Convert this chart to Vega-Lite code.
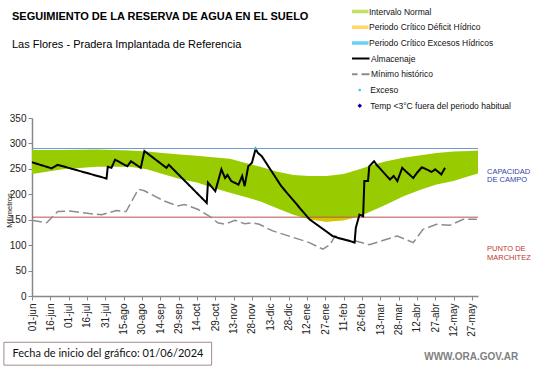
{
  "$schema": "https://vega.github.io/schema/vega-lite/v6.json",
  "width": 446,
  "height": 178,
  "autosize": "none",
  "padding": {"left": 32, "top": 118, "right": 63, "bottom": 72},
  "background": "white",
  "title": {
    "text": "SEGUIMIENTO DE LA RESERVA DE AGUA EN EL SUELO",
    "subtitle": "Las Flores - Pradera Implantada  de Referencia",
    "anchor": "start",
    "frame": "group",
    "dx": -20,
    "offset": -44,
    "font": "Liberation Sans",
    "fontSize": 11,
    "fontWeight": "bold",
    "color": "black",
    "subtitleFont": "Liberation Sans",
    "subtitleFontSize": 11,
    "subtitleColor": "black",
    "subtitlePadding": 17
  },
  "datasets": {
    "banda": [
      {"fecha": "2024-06-01", "sup": 287, "inf": 240},
      {"fecha": "2024-06-26", "sup": 287, "inf": 249},
      {"fecha": "2024-07-24", "sup": 288, "inf": 254},
      {"fecha": "2024-08-20", "sup": 286, "inf": 254},
      {"fecha": "2024-09-03", "sup": 284, "inf": 249},
      {"fecha": "2024-09-16", "sup": 281, "inf": 240},
      {"fecha": "2024-09-30", "sup": 278, "inf": 230},
      {"fecha": "2024-10-14", "sup": 276, "inf": 223},
      {"fecha": "2024-10-27", "sup": 273, "inf": 213},
      {"fecha": "2024-11-10", "sup": 270, "inf": 203},
      {"fecha": "2024-11-22", "sup": 262, "inf": 195},
      {"fecha": "2024-12-05", "sup": 254, "inf": 186},
      {"fecha": "2024-12-18", "sup": 245, "inf": 173},
      {"fecha": "2025-01-01", "sup": 238, "inf": 160},
      {"fecha": "2025-01-14", "sup": 236, "inf": 151},
      {"fecha": "2025-01-28", "sup": 236, "inf": 146},
      {"fecha": "2025-02-11", "sup": 240, "inf": 149},
      {"fecha": "2025-02-24", "sup": 249, "inf": 157},
      {"fecha": "2025-03-07", "sup": 258, "inf": 168},
      {"fecha": "2025-03-18", "sup": 265, "inf": 180},
      {"fecha": "2025-04-01", "sup": 272, "inf": 196},
      {"fecha": "2025-04-15", "sup": 277, "inf": 209},
      {"fecha": "2025-04-28", "sup": 281, "inf": 219},
      {"fecha": "2025-05-12", "sup": 284, "inf": 226},
      {"fecha": "2025-05-25", "sup": 285, "inf": 236},
      {"fecha": "2025-06-01", "sup": 286, "inf": 241}
    ],
    "deficit": [
      {"fecha": "2025-01-09", "inf": 155},
      {"fecha": "2025-01-14", "inf": 151},
      {"fecha": "2025-01-28", "inf": 146},
      {"fecha": "2025-02-11", "inf": 149},
      {"fecha": "2025-02-21", "inf": 155}
    ],
    "almacenaje": [
      {"fecha": "2024-06-01", "mm": 263},
      {"fecha": "2024-06-17", "mm": 251},
      {"fecha": "2024-06-22", "mm": 258},
      {"fecha": "2024-08-01", "mm": 231},
      {"fecha": "2024-08-02", "mm": 254},
      {"fecha": "2024-08-05", "mm": 252},
      {"fecha": "2024-08-08", "mm": 268},
      {"fecha": "2024-08-18", "mm": 255},
      {"fecha": "2024-08-21", "mm": 265},
      {"fecha": "2024-08-29", "mm": 252},
      {"fecha": "2024-09-01", "mm": 285},
      {"fecha": "2024-09-19", "mm": 252},
      {"fecha": "2024-09-21", "mm": 258},
      {"fecha": "2024-10-22", "mm": 183},
      {"fecha": "2024-10-23", "mm": 223},
      {"fecha": "2024-10-29", "mm": 206},
      {"fecha": "2024-11-03", "mm": 249},
      {"fecha": "2024-11-06", "mm": 232},
      {"fecha": "2024-11-08", "mm": 238},
      {"fecha": "2024-11-11", "mm": 226},
      {"fecha": "2024-11-17", "mm": 219},
      {"fecha": "2024-11-20", "mm": 236},
      {"fecha": "2024-11-22", "mm": 216},
      {"fecha": "2024-11-25", "mm": 255},
      {"fecha": "2024-11-28", "mm": 262},
      {"fecha": "2024-12-01", "mm": 289},
      {"fecha": "2024-12-03", "mm": 281},
      {"fecha": "2024-12-06", "mm": 275},
      {"fecha": "2024-12-22", "mm": 216},
      {"fecha": "2025-01-14", "mm": 151},
      {"fecha": "2025-02-02", "mm": 118},
      {"fecha": "2025-02-08", "mm": 113},
      {"fecha": "2025-02-15", "mm": 109},
      {"fecha": "2025-02-20", "mm": 105},
      {"fecha": "2025-02-21", "mm": 134},
      {"fecha": "2025-02-24", "mm": 160},
      {"fecha": "2025-02-27", "mm": 157},
      {"fecha": "2025-02-28", "mm": 226},
      {"fecha": "2025-03-03", "mm": 226},
      {"fecha": "2025-03-04", "mm": 255},
      {"fecha": "2025-03-08", "mm": 265},
      {"fecha": "2025-03-10", "mm": 258},
      {"fecha": "2025-03-21", "mm": 229},
      {"fecha": "2025-03-24", "mm": 236},
      {"fecha": "2025-03-27", "mm": 226},
      {"fecha": "2025-03-31", "mm": 252},
      {"fecha": "2025-04-03", "mm": 245},
      {"fecha": "2025-04-09", "mm": 232},
      {"fecha": "2025-04-12", "mm": 242},
      {"fecha": "2025-04-16", "mm": 253},
      {"fecha": "2025-04-19", "mm": 250},
      {"fecha": "2025-04-24", "mm": 244},
      {"fecha": "2025-04-27", "mm": 249},
      {"fecha": "2025-05-02", "mm": 239},
      {"fecha": "2025-05-05", "mm": 252}
    ],
    "minimo": [
      {"fecha": "2024-06-01", "mm": 149},
      {"fecha": "2024-06-13", "mm": 144},
      {"fecha": "2024-06-22", "mm": 166},
      {"fecha": "2024-07-02", "mm": 167},
      {"fecha": "2024-07-18", "mm": 162},
      {"fecha": "2024-07-28", "mm": 160},
      {"fecha": "2024-08-09", "mm": 168},
      {"fecha": "2024-08-17", "mm": 166},
      {"fecha": "2024-08-27", "mm": 210},
      {"fecha": "2024-09-01", "mm": 207},
      {"fecha": "2024-09-04", "mm": 203},
      {"fecha": "2024-09-17", "mm": 187},
      {"fecha": "2024-09-28", "mm": 177},
      {"fecha": "2024-10-04", "mm": 180},
      {"fecha": "2024-10-15", "mm": 170},
      {"fecha": "2024-10-26", "mm": 154},
      {"fecha": "2024-10-31", "mm": 144},
      {"fecha": "2024-11-06", "mm": 141},
      {"fecha": "2024-11-14", "mm": 149},
      {"fecha": "2024-11-22", "mm": 142},
      {"fecha": "2024-11-28", "mm": 144},
      {"fecha": "2024-12-04", "mm": 141},
      {"fecha": "2024-12-15", "mm": 128},
      {"fecha": "2025-01-01", "mm": 115},
      {"fecha": "2025-01-14", "mm": 105},
      {"fecha": "2025-01-25", "mm": 92},
      {"fecha": "2025-01-31", "mm": 101},
      {"fecha": "2025-02-04", "mm": 118},
      {"fecha": "2025-02-14", "mm": 109},
      {"fecha": "2025-02-21", "mm": 108},
      {"fecha": "2025-03-04", "mm": 101},
      {"fecha": "2025-03-15", "mm": 109},
      {"fecha": "2025-03-27", "mm": 118},
      {"fecha": "2025-04-09", "mm": 105},
      {"fecha": "2025-04-17", "mm": 131},
      {"fecha": "2025-04-28", "mm": 141},
      {"fecha": "2025-05-09", "mm": 139},
      {"fecha": "2025-05-20", "mm": 151},
      {"fecha": "2025-05-31", "mm": 151}
    ],
    "exceso": [
      {"fecha": "2024-12-01", "mm": 290}
    ]
  },
  "layer": [
    {
      "data": {"name": "banda"},
      "mark": {"type": "area", "opacity": 1},
      "encoding": {
        "x": {
          "field": "fecha", "type": "temporal",
          "scale": {"type": "utc", "domain": [{"year": 2024, "month": 6, "date": 1, "utc": true}, {"year": 2025, "month": 6, "date": 1, "utc": true}]},
          "axis": {
            "title": null,
            "tickCount": 40,
            "values": [
              {"year": 2024, "month": 6, "date": 1, "utc": true},
              {"year": 2024, "month": 6, "date": 16, "utc": true},
              {"year": 2024, "month": 7, "date": 1, "utc": true},
              {"year": 2024, "month": 7, "date": 16, "utc": true},
              {"year": 2024, "month": 7, "date": 31, "utc": true},
              {"year": 2024, "month": 8, "date": 15, "utc": true},
              {"year": 2024, "month": 8, "date": 30, "utc": true},
              {"year": 2024, "month": 9, "date": 14, "utc": true},
              {"year": 2024, "month": 9, "date": 29, "utc": true},
              {"year": 2024, "month": 10, "date": 14, "utc": true},
              {"year": 2024, "month": 10, "date": 29, "utc": true},
              {"year": 2024, "month": 11, "date": 13, "utc": true},
              {"year": 2024, "month": 11, "date": 28, "utc": true},
              {"year": 2024, "month": 12, "date": 13, "utc": true},
              {"year": 2024, "month": 12, "date": 28, "utc": true},
              {"year": 2025, "month": 1, "date": 12, "utc": true},
              {"year": 2025, "month": 1, "date": 27, "utc": true},
              {"year": 2025, "month": 2, "date": 11, "utc": true},
              {"year": 2025, "month": 2, "date": 26, "utc": true},
              {"year": 2025, "month": 3, "date": 13, "utc": true},
              {"year": 2025, "month": 3, "date": 28, "utc": true},
              {"year": 2025, "month": 4, "date": 12, "utc": true},
              {"year": 2025, "month": 4, "date": 27, "utc": true},
              {"year": 2025, "month": 5, "date": 12, "utc": true},
              {"year": 2025, "month": 5, "date": 27, "utc": true}
            ],
            "labelExpr": "utcFormat(datum.value, '%d') + '-' + ['ene','feb','mar','abr','may','jun','jul','ago','sep','oct','nov','dic'][utcmonth(datum.value)]",
            "labelAngle": -90,
            "labelOverlap": false,
            "labelFont": "Liberation Sans",
            "labelFontSize": 10,
            "labelColor": "#222222",
            "labelPadding": 3,
            "tickSize": 4,
            "tickColor": "#888888",
            "domainColor": "#888888",
            "grid": false
          }
        },
        "y": {
          "field": "sup", "type": "quantitative",
          "scale": {"domain": [0, 350], "nice": false},
          "axis": {
            "title": "Milímetros",
            "titleFont": "Liberation Sans",
            "titleFontSize": 7.5,
            "titleFontWeight": "normal",
            "titleColor": "#222222",
            "titleX": -19,
            "titleY": 92,
            "tickCount": 10,
            "values": [0, 50, 100, 150, 200, 250, 300, 350],
            "labelOverlap": false,
            "labelFont": "Liberation Sans",
            "labelFontSize": 10,
            "labelColor": "#222222",
            "tickSize": 4,
            "tickColor": "#888888",
            "domainColor": "#888888",
            "grid": false
          }
        },
        "y2": {"field": "inf"},
        "fill": {
          "datum": "Intervalo Normal",
          "scale": {
            "domain": ["Intervalo Normal", "Periodo Crítico Déficit Hídrico", "Periodo Crítico Excesos Hídricos"],
            "range": ["#99CC00", "#FFC000", "#00B0F0"]
          },
          "legend": {
            "title": null,
            "orient": "none",
            "legendX": 320,
            "legendY": -112,
            "padding": 0,
            "symbolType": "M-2,-0.32H2V0.32H-2Z",
            "symbolSize": 121,
            "symbolStrokeWidth": 0,
            "symbolOpacity": 1,
            "clipHeight": 11,
            "labelFont": "Liberation Sans",
            "labelFontSize": 8.5,
            "labelColor": "#111111",
            "labelOffset": 6,
            "rowPadding": 4.7
          }
        }
      }
    },
    {
      "data": {"name": "deficit"},
      "mark": {"type": "area", "opacity": 0.6},
      "encoding": {
        "x": {"field": "fecha", "type": "temporal"},
        "y": {"field": "inf", "type": "quantitative"},
        "y2": {"datum": 155},
        "fill": {"datum": "Periodo Crítico Déficit Hídrico"}
      }
    },
    {
      "data": {"values": [{}]},
      "mark": {"type": "rule", "color": "#6F9AD8", "strokeWidth": 1},
      "encoding": {"y": {"datum": 290}}
    },
    {
      "data": {"values": [{}]},
      "mark": {"type": "rule", "color": "#B85450", "strokeWidth": 1},
      "encoding": {"y": {"datum": 155}}
    },
    {
      "data": {"name": "minimo"},
      "mark": {"type": "line", "strokeWidth": 1.5},
      "encoding": {
        "x": {"field": "fecha", "type": "temporal"},
        "y": {"field": "mm", "type": "quantitative"},
        "stroke": {"datum": "Mínimo histórico"},
        "strokeDash": {"datum": "Mínimo histórico"}
      }
    },
    {
      "data": {"name": "almacenaje"},
      "mark": {"type": "line", "strokeWidth": 2},
      "encoding": {
        "x": {"field": "fecha", "type": "temporal"},
        "y": {"field": "mm", "type": "quantitative"},
        "stroke": {
          "datum": "Almacenaje",
          "scale": {"domain": ["Almacenaje", "Mínimo histórico"], "range": ["#000000", "#8C8C8C"]},
          "legend": {
            "title": null,
            "orient": "none",
            "legendX": 320,
            "legendY": -65,
            "padding": 0,
            "symbolType": "M-2,0H2",
            "symbolSize": 121,
            "symbolStrokeWidth": 2,
            "symbolFillColor": "transparent",
            "clipHeight": 11,
            "labelFont": "Liberation Sans",
            "labelFontSize": 8.5,
            "labelColor": "#111111",
            "labelOffset": 6,
            "rowPadding": 4.7
          }
        },
        "strokeDash": {
          "datum": "Almacenaje",
          "scale": {"domain": ["Almacenaje", "Mínimo histórico"], "range": [[1, 0], [10, 4]]},
          "legend": {
            "title": null,
            "orient": "none",
            "legendX": 320,
            "legendY": -65
          }
        }
      }
    },
    {
      "data": {"name": "exceso"},
      "mark": {"type": "point", "filled": true, "size": 20, "opacity": 1},
      "encoding": {
        "x": {"field": "fecha", "type": "temporal"},
        "y": {"field": "mm", "type": "quantitative"},
        "color": {
          "datum": "Exceso",
          "scale": {"domain": ["Exceso", "Temp <3°C fuera del periodo habitual"], "range": ["#33CCEE", "#0000AA"]},
          "legend": {
            "title": null,
            "orient": "none",
            "legendX": 323.5,
            "legendY": -33.5,
            "padding": 0,
            "symbolSize": 20,
            "symbolOpacity": 1,
            "clipHeight": 11,
            "labelFont": "Liberation Sans",
            "labelFontSize": 8.5,
            "labelColor": "#111111",
            "labelOffset": 6.3,
            "rowPadding": 4.7
          }
        },
        "shape": {
          "datum": "Exceso",
          "scale": {"domain": ["Exceso", "Temp <3°C fuera del periodo habitual"], "range": ["M-0.6,0A0.6,0.6 0 1,0 0.6,0A0.6,0.6 0 1,0 -0.6,0Z", "diamond"]},
          "legend": {
            "title": null,
            "orient": "none",
            "legendX": 323.5,
            "legendY": -33.5
          }
        }
      }
    },
    {
      "data": {"values": [{}]},
      "mark": {"type": "text", "align": "left", "baseline": "middle", "dx": 9, "font": "Liberation Sans", "fontSize": 7.5, "color": "#3344AA", "lineBreak": "\n", "lineHeight": 8.5},
      "encoding": {
        "x": {"datum": {"year": 2025, "month": 6, "date": 1, "utc": true}},
        "y": {"datum": 244},
        "text": {"value": "CAPACIDAD\nDE  CAMPO"}
      }
    },
    {
      "data": {"values": [{}]},
      "mark": {"type": "text", "align": "left", "baseline": "middle", "dx": 9, "font": "Liberation Sans", "fontSize": 7.5, "color": "#C0392B", "lineBreak": "\n", "lineHeight": 9},
      "encoding": {
        "x": {"datum": {"year": 2025, "month": 6, "date": 1, "utc": true}},
        "y": {"datum": 92},
        "text": {"value": "PUNTO  DE\nMARCHITEZ"}
      }
    },
    {
      "data": {"values": [{}]},
      "mark": {"type": "rect", "fill": "white", "stroke": "#A08C8C", "strokeWidth": 1},
      "encoding": {
        "x": {"datum": {"year": 2024, "month": 5, "date": 9, "utc": true}},
        "x2": {"datum": {"year": 2024, "month": 10, "date": 26, "utc": true}},
        "y": {"datum": -91},
        "y2": {"datum": -136}
      }
    },
    {
      "data": {"values": [{}]},
      "mark": {"type": "text", "align": "left", "baseline": "middle", "font": "Lato", "fontSize": 11, "color": "#111111"},
      "encoding": {
        "x": {"datum": {"year": 2024, "month": 5, "date": 16, "utc": true}},
        "y": {"datum": -114},
        "text": {"value": "Fecha de inicio del gráfico:   01/06/2024"}
      }
    },
    {
      "data": {"values": [{}]},
      "mark": {"type": "text", "align": "left", "baseline": "middle", "font": "Liberation Sans", "fontSize": 10, "fontWeight": "bold", "color": "#808080"},
      "encoding": {
        "x": {"datum": {"year": 2025, "month": 4, "date": 18, "utc": true}},
        "y": {"datum": -120},
        "text": {"value": "WWW.ORA.GOV.AR"}
      }
    }
  ],
  "config": {
    "view": {"stroke": null},
    "axis": {"domainWidth": 1.5}
  }
}
